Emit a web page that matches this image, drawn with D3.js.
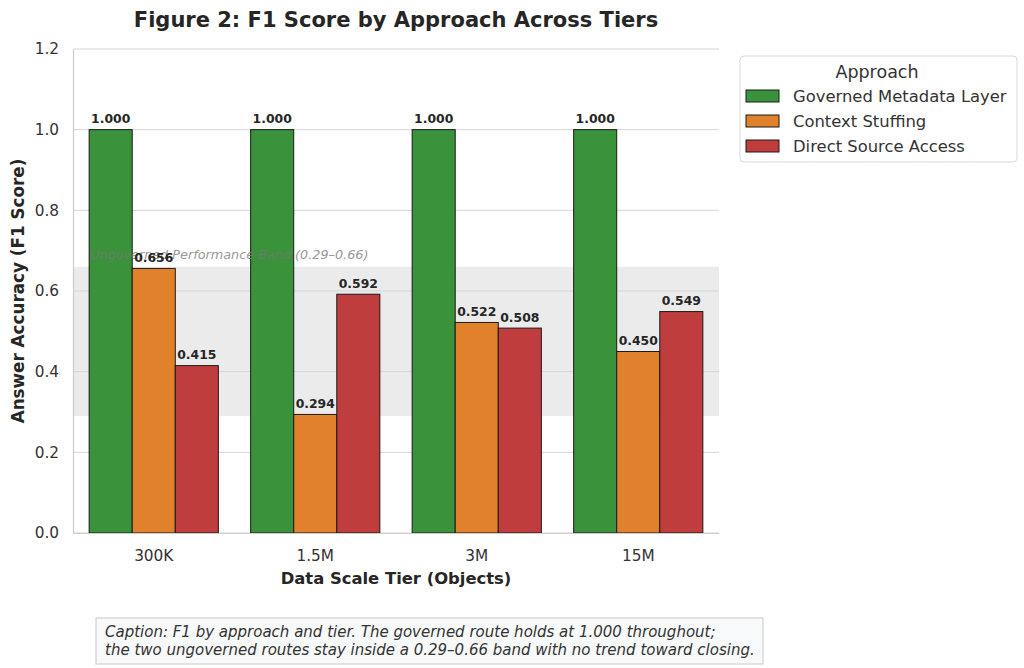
<!DOCTYPE html>
<html>
<head>
<meta charset="utf-8">
<script src="https://cdn.jsdelivr.net/npm/d3@7"></script>
<style>
  body { margin: 0; background: #fff; }
  svg { font-family: "DejaVu Sans", sans-serif; }
</style>
</head>
<body>
<div id="chart"></div>
<script>
// chart data
const tiers = ["300K", "1.5M", "3M", "15M"];
const approaches = ["Governed Metadata Layer", "Context Stuffing", "Direct Source Access"];
const governed = [1.000, 1.000, 1.000, 1.000];
const stuffing = [0.656, 0.294, 0.522, 0.450];
const direct = [0.415, 0.592, 0.508, 0.549];
const yTicks = [0.0, 0.2, 0.4, 0.6, 0.8, 1.0, 1.2];
const band = [0.29, 0.66];
const colors = ["#3a923a", "#e1812c", "#c03d3e"];

const series = [governed, stuffing, direct];

const width = 1024, height = 668;
const plotL = 73, plotR = 719, plotT = 49, plotB = 533;

const svg = d3.select("#chart").append("svg")
    .attr("width", width)
    .attr("height", height);

const x = d3.scaleBand().domain(tiers).range([plotL, plotR]);
// each group is 0.8 of a step, centred in its band
const groupW = x.bandwidth() * 0.8;
const barW = groupW / approaches.length;
const xc = t => x(t) + x.bandwidth() / 2;

const y = d3.scaleLinear().domain([0, 1.2]).range([plotB, plotT]);

// band
svg.append("rect")
    .attr("x", plotL).attr("width", plotR - plotL)
    .attr("y", y(band[1])).attr("height", y(band[0]) - y(band[1]))
    .attr("fill", "#ebebeb");

// grid
svg.append("g").selectAll("line").data(yTicks).join("line")
    .attr("x1", plotL).attr("x2", plotR)
    .attr("y1", d => y(d)).attr("y2", d => y(d))
    .attr("stroke", "#d5d5d5").attr("stroke-width", 1);

// bars
const bars = [];
series.forEach((vals, s) => vals.forEach((v, i) => bars.push({ s, t: tiers[i], v })));

svg.append("g").selectAll("rect").data(bars).join("rect")
    .attr("x", d => xc(d.t) - groupW / 2 + d.s * barW)
    .attr("width", barW)
    .attr("y", d => y(d.v))
    .attr("height", d => y(0) - y(d.v))
    .attr("fill", d => colors[d.s])
    .attr("stroke", "#1a1a1a")
    .attr("stroke-width", 1);

// band label
svg.append("text")
    .attr("x", plotL + 17).attr("y", y(band[1]) - 8)
    .attr("font-size", 12.8).attr("font-style", "italic")
    .attr("fill", "#777").attr("opacity", 0.75)
    .text("Ungoverned Performance Band (0.29\u20130.66)");

// value labels
svg.append("g").selectAll("text").data(bars).join("text")
    .attr("x", d => xc(d.t) - groupW / 2 + (d.s + 0.5) * barW)
    .attr("y", d => y(d.v) - 6.5)
    .attr("text-anchor", "middle")
    .attr("font-size", 12.4).attr("font-weight", "bold")
    .attr("fill", "#262626")
    .text(d => d.v.toFixed(3));

// axes
const yAxis = d3.axisLeft(y).tickValues(yTicks).tickFormat(d3.format(".1f")).tickSize(0).tickPadding(14);
const gy = svg.append("g").attr("transform", `translate(${plotL},0)`).call(yAxis);
gy.select(".domain").attr("stroke", "#cccccc").attr("stroke-width", 1.2);
gy.selectAll("text").attr("font-size", 15.3).attr("fill", "#333").attr("font-family", "DejaVu Sans");

const xAxis = d3.axisBottom(x).tickSize(0).tickPadding(17);
const gx = svg.append("g").attr("transform", `translate(0,${plotB})`).call(xAxis);
gx.select(".domain").attr("stroke", "#cccccc").attr("stroke-width", 1.2);
gx.selectAll("text").attr("font-size", 15.3).attr("fill", "#333").attr("font-family", "DejaVu Sans");

// axis titles
svg.append("text")
    .attr("x", (plotL + plotR) / 2).attr("y", 584)
    .attr("text-anchor", "middle")
    .attr("font-size", 16.4).attr("font-weight", "bold").attr("fill", "#262626")
    .text("Data Scale Tier (Objects)");

svg.append("text")
    .attr("transform", `translate(24,${(plotT + plotB) / 2}) rotate(-90)`)
    .attr("text-anchor", "middle")
    .attr("font-size", 16.8).attr("font-weight", "bold").attr("fill", "#262626")
    .text("Answer Accuracy (F1 Score)");

// title
svg.append("text")
    .attr("x", 396).attr("y", 27)
    .attr("text-anchor", "middle")
    .attr("font-size", 21).attr("font-weight", "bold").attr("fill", "#262626")
    .text("Figure 2: F1 Score by Approach Across Tiers");

// legend
const lg = svg.append("g").attr("transform", "translate(740,56)");
lg.append("rect")
    .attr("width", 277).attr("height", 106).attr("rx", 4)
    .attr("fill", "#fff").attr("stroke", "#d9d9d9");
lg.append("text")
    .attr("x", 137).attr("y", 22)
    .attr("text-anchor", "middle")
    .attr("font-size", 17.5).attr("fill", "#333")
    .text("Approach");
const items = lg.selectAll("g.item").data(approaches).join("g")
    .attr("transform", (d, i) => `translate(6,${40 + i * 25})`);
items.append("rect")
    .attr("width", 33).attr("height", 12).attr("y", -6)
    .attr("fill", (d, i) => colors[i])
    .attr("stroke", "#1a1a1a").attr("stroke-width", 1);
items.append("text")
    .attr("x", 47).attr("y", 0).attr("dy", "0.35em")
    .attr("font-size", 16.4).attr("fill", "#333")
    .text(d => d);

// caption
const cap = svg.append("g").attr("transform", "translate(96,618)");
cap.append("rect")
    .attr("width", 667).attr("height", 46)
    .attr("fill", "#f8f9fa").attr("stroke", "#c8c8c8");
cap.append("text")
    .attr("x", 9).attr("y", 19)
    .attr("font-size", 15).attr("font-style", "italic").attr("fill", "#333")
    .text("Caption: F1 by approach and tier. The governed route holds at 1.000 throughout;");
cap.append("text")
    .attr("x", 9).attr("y", 37)
    .attr("font-size", 15).attr("font-style", "italic").attr("fill", "#333")
    .text("the two ungoverned routes stay inside a 0.29\u20130.66 band with no trend toward closing.");
</script>
</body>
</html>
